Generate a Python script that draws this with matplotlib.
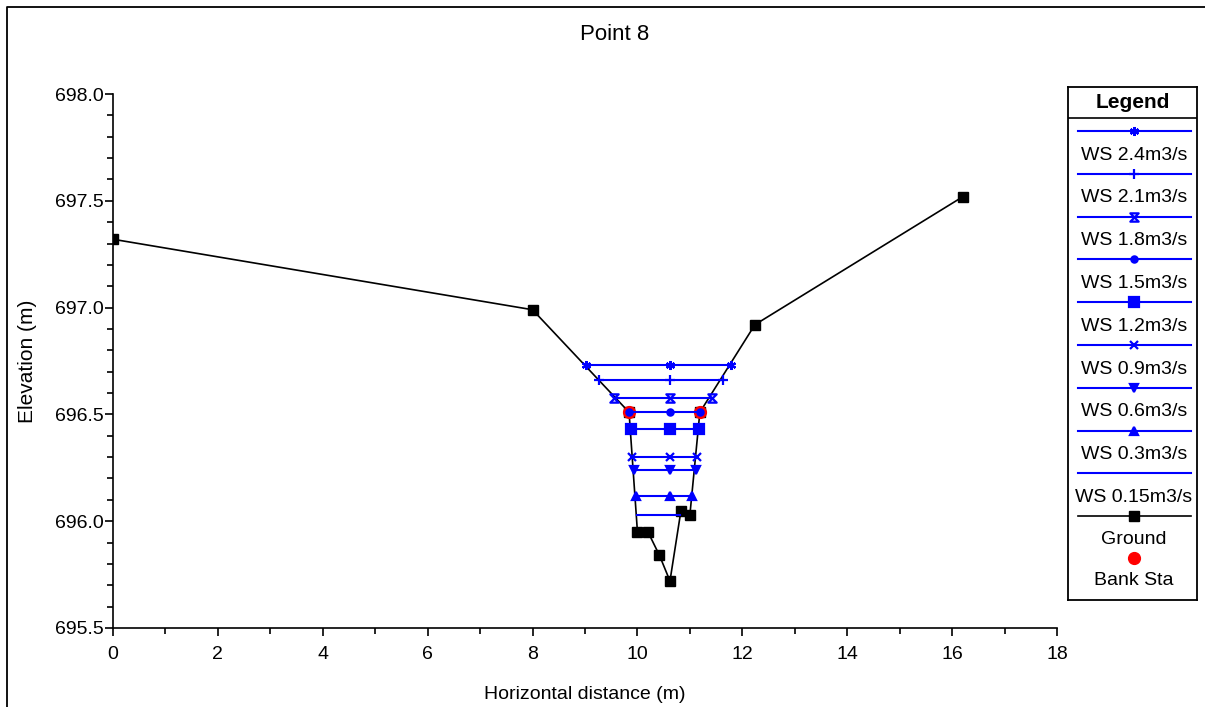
import numpy as np
import matplotlib
matplotlib.use("Agg")
import matplotlib.pyplot as plt
from matplotlib.path import Path
from matplotlib.lines import Line2D

plt.rcParams['font.family'] = ['Liberation Sans', 'DejaVu Sans']

# ---- data ----
ground_x = [0.0, 8.0, 9.84, 10.0, 10.2, 10.42, 10.62, 10.83, 11.0, 11.19, 12.24, 16.21]
ground_y = [697.32, 696.99, 696.51, 695.95, 695.95, 695.84, 695.72, 696.05, 696.03, 696.51, 696.92, 697.52]

bank_x = [9.84, 11.19]
bank_y = [696.51, 696.51]

flows = ['2.4', '2.1', '1.8', '1.5', '1.2', '0.9', '0.6', '0.3', '0.15']
ws_elev = [696.73, 696.66, 696.575, 696.51, 696.43, 696.30, 696.24, 696.12, 696.03]
ws_left = [9.01, 9.26, 9.56, 9.83, 9.87, 9.90, 9.93, 9.97, 10.0]
ws_right = [11.79, 11.63, 11.42, 11.19, 11.18, 11.13, 11.11, 11.04, 10.81]
ws_mid = 10.62

title = "Point 8"
xlabel = "Horizontal distance (m)"
ylabel = "Elevation (m)"

# ---- styles ----
hourglass = Path([(-1, 1), (1, 1), (-1, -1), (1, -1), (-1, 1)],
                 [Path.MOVETO, Path.LINETO, Path.LINETO, Path.LINETO, Path.CLOSEPOLY])
ws_markers = [(6, 2, 0), '+', hourglass, 'o', 's', 'x', 'v', '^', None]
ws_msize = [6.5, 7, 6, 4.5, 6.5, 6, 6, 6, 0]
ws_mfill = [True, True, False, True, True, True, True, True, True]
BLUE = '#0000ff'

W, H = 1205, 707
fig = plt.figure(figsize=(W / 100, H / 100), dpi=100)

ax = fig.add_axes([113 / W, 1 - 628 / H, (1057 - 113) / W, (628 - 94) / H])

# ground
ax.plot(ground_x, ground_y, color='black', lw=1.2, marker='s', ms=6.5,
        mfc='black', mec='black', zorder=3)
# bank stations
ax.plot(bank_x, bank_y, ls='none', marker='o', ms=8.5, mfc='red', mec='red', zorder=4)

# water surfaces
for i in range(len(flows)):
    xs = [ws_left[i], ws_mid, ws_right[i]]
    ys = [ws_elev[i]] * 3
    m = ws_markers[i]
    kw = dict(color=BLUE, lw=1.5, zorder=5)
    if m is not None:
        kw.update(marker=m, ms=ws_msize[i], mec=BLUE,
                  mfc=BLUE if ws_mfill[i] else 'none', mew=1.6)
    ax.plot(xs, ys, **kw)

ax.set_xlim(0, 18)
ax.set_ylim(695.5, 698.0)
ax.set_xticks(np.arange(0, 19, 2))
ax.set_xticks(np.arange(1, 18, 2), minor=True)
yt = np.arange(695.5, 698.01, 0.5)
ax.set_yticks(yt)
ax.set_yticks(np.arange(695.5, 698.01, 0.1), minor=True)
ax.set_yticklabels([f"{v:.1f}" for v in yt])
for s in ['top', 'right']:
    ax.spines[s].set_visible(False)
for s in ['left', 'bottom']:
    ax.spines[s].set_linewidth(1.2)
ax.tick_params(axis='both', which='major', length=6, width=1.2, labelsize=14, direction='out')
ax.tick_params(axis='x', which='major', pad=7)
ax.tick_params(axis='y', which='major', pad=1)
ax.tick_params(axis='both', which='minor', length=4, width=1.2, direction='out')
ax.set_xlabel(xlabel, fontsize=14)
ax.set_ylabel(ylabel, fontsize=15)
ax.xaxis.set_label_coords(0.5, -0.108)
ax.yaxis.set_label_coords(-0.08, 0.5)

fig.text(615 / W, 1 - 34 / H, title, ha='center', va='center', fontsize=16)

# figure border (left and top)
fig.add_artist(Line2D([7 / W, 7 / W, 1.0], [0.0, 1 - 7 / H, 1 - 7 / H],
                      transform=fig.transFigure, color='black', lw=1.3))

# ---- legend (custom, drawn in its own axes with pixel coordinates) ----
lx0, lx1, ly0, ly1 = 1068, 1197, 87, 600
lax = fig.add_axes([lx0 / W, 1 - ly1 / H, (lx1 - lx0) / W, (ly1 - ly0) / H])
lax.set_xlim(lx0, lx1)
lax.set_ylim(ly1, ly0)
lax.set_xticks([])
lax.set_yticks([])
for s in lax.spines.values():
    s.set_linewidth(1.3)
lax.text((lx0 + lx1) / 2, 103, "Legend", ha='center', va='center',
         fontsize=15, fontweight='bold')
lax.plot([lx0, lx1], [118, 118], color='black', lw=1.2)

cx = 1134
step = 42.8
toff = 24
for i in range(len(flows)):
    yl = 131 + i * step
    m = ws_markers[i]
    lax.plot([1078, 1191], [yl, yl], color=BLUE, lw=1.5)
    if m is not None:
        lax.plot([cx], [yl], ls='none', marker=m, ms=ws_msize[i], mec=BLUE,
                 mfc=BLUE if ws_mfill[i] else 'none', mew=1.6)
    lax.text(cx, yl + toff, f"WS {flows[i]}m3/s", ha='center', va='center', fontsize=14)

yg = 131 + len(flows) * step
lax.plot([1078, 1191], [yg, yg], color='black', lw=1.2)
lax.plot([cx], [yg], ls='none', marker='s', ms=6.5, mfc='black', mec='black')
lax.text(cx, yg + 23, "Ground", ha='center', va='center', fontsize=14)
lax.plot([cx], [yg + 42], ls='none', marker='o', ms=8.5, mfc='red', mec='red')
lax.text(cx, yg + 64, "Bank Sta", ha='center', va='center', fontsize=14)

fig.savefig("out.png", dpi=100)
